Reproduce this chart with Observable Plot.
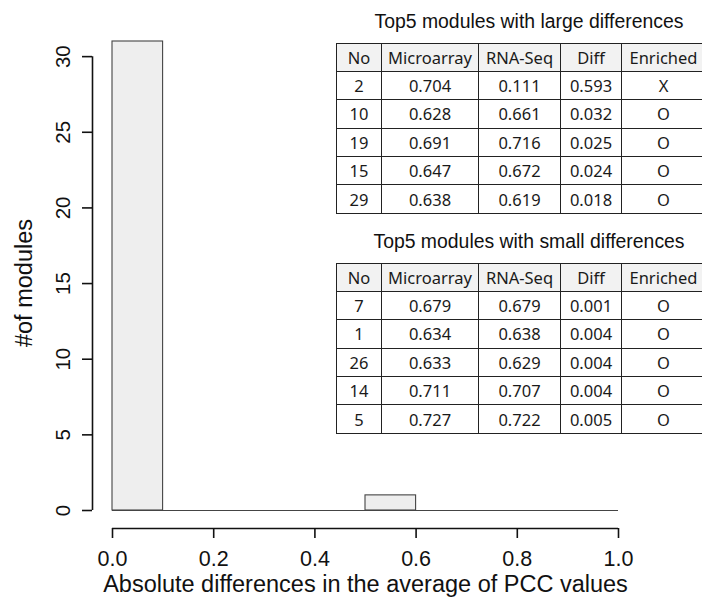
<!DOCTYPE html>
<html><head><meta charset="utf-8">
<script src="https://cdn.jsdelivr.net/npm/d3@7"></script>
<script src="https://cdn.jsdelivr.net/npm/@observablehq/plot@0.6"></script>
<style>
body{margin:0;background:#fff;}
#wrap{position:relative;width:702px;height:605px;overflow:hidden;background:#fff;}
#wrap svg{position:absolute;left:0;top:0;}
.ttl{position:absolute;font-family:"Liberation Sans",Arial,sans-serif;font-size:19.4px;color:#111;white-space:nowrap;transform:translate(-50%,-50%);}
table{position:absolute;border-collapse:collapse;font-family:"Noto Sans",sans-serif;font-size:16.5px;color:#1a1a1a;table-layout:fixed;}
td{border:1px solid #222;padding:0;text-align:center;white-space:nowrap;overflow:hidden;}
tr{height:28.4px;}
tr.h td{background:#f2f2f2;}
</style></head><body><div id="wrap"></div><script>
// Histogram data
const binEdges = [0, 0.1, 0.2, 0.3, 0.4, 0.5, 0.6, 0.7, 0.8, 0.9, 1.0];
const binCounts = [31, 0, 0, 0, 0, 1, 0, 0, 0, 0];
const xTicks = [0, 0.2, 0.4, 0.6, 0.8, 1.0];
const yTicks = [0, 5, 10, 15, 20, 25, 30];
const xLabel = "Absolute differences in the average of PCC values";
const yLabel = "#of modules";

// Table data
const tableHeader = ["No", "Microarray", "RNA-Seq", "Diff", "Enriched"];
const largeTitle = "Top5 modules with large differences";
const largeNo = ["2", "10", "19", "15", "29"];
const largeMicro = ["0.704", "0.628", "0.691", "0.647", "0.638"];
const largeRna = ["0.111", "0.661", "0.716", "0.672", "0.619"];
const largeDiff = ["0.593", "0.032", "0.025", "0.024", "0.018"];
const largeEnriched = ["X", "O", "O", "O", "O"];
const smallTitle = "Top5 modules with small differences";
const smallNo = ["7", "1", "26", "14", "5"];
const smallMicro = ["0.679", "0.634", "0.633", "0.711", "0.727"];
const smallRna = ["0.679", "0.638", "0.629", "0.707", "0.722"];
const smallDiff = ["0.001", "0.004", "0.004", "0.004", "0.005"];
const smallEnriched = ["O", "O", "O", "O", "O"];

const bins = binCounts.map((c, i) => ({x1: binEdges[i], x2: binEdges[i + 1], count: c}));
const font = "'Liberation Sans', Arial, sans-serif";

const chart = Plot.plot({
  width: 702,
  height: 605,
  marginLeft: 112,
  marginRight: 84,
  marginTop: 41,
  marginBottom: 95,
  style: {fontFamily: font, background: "#fff", color: "#111"},
  x: {domain: [0, 1]},
  y: {domain: [0, 31]},
  marks: [
    Plot.rectY(bins, {x1: "x1", x2: "x2", y: "count", fill: "#eeeeee", stroke: "#444", strokeWidth: 1.1}),
    Plot.ruleY([0], {x1: binEdges[0], x2: binEdges[binEdges.length - 1], stroke: "#444", strokeWidth: 1.1}),
    // x axis (offset as in R)
    Plot.ruleY([0], {x1: xTicks[0], x2: xTicks[xTicks.length - 1], dy: 18, stroke: "#111", strokeWidth: 1.6}),
    Plot.axisX({ticks: xTicks, tickSize: 10, tickPadding: 12, dy: 18, tickFormat: d3.format(".1f"), fontSize: 21.5, label: null, strokeWidth: 1.6, stroke: "#111"}),
    // y axis
    Plot.ruleX([0], {y1: yTicks[0], y2: yTicks[yTicks.length - 1], dx: -20, stroke: "#111", strokeWidth: 1.6}),
    Plot.axisY({ticks: yTicks, tickSize: 10, dx: -20, tickFormat: () => "", label: null, strokeWidth: 1.6, stroke: "#111"}),
    Plot.text(yTicks, {x: 0, y: d => d, dx: -49, rotate: -90, text: d => String(d), fontSize: 20.5, fill: "#111"}),
    // axis titles
    Plot.text([yLabel], {frameAnchor: "left", textAnchor: "middle", dx: -88, dy: 7, rotate: -90, fontSize: 23.5, fill: "#111"}),
    Plot.text([xLabel], {frameAnchor: "bottom", dy: 81, fontSize: 23.5, fill: "#111"})
  ]
});

const wrap = document.getElementById("wrap");
wrap.appendChild(chart);

const colWidths = [45, 97, 82, 61, 84];
function addTable(title, cols, top, titleY) {
  const t = document.createElement("div");
  t.className = "ttl";
  t.textContent = title;
  t.style.left = "529px";
  t.style.top = titleY + "px";
  wrap.appendChild(t);
  const tb = document.createElement("table");
  tb.style.left = "336px";
  tb.style.top = top + "px";
  tb.style.width = colWidths.reduce((a, b) => a + b, 0) + "px";
  const cg = document.createElement("colgroup");
  colWidths.forEach(w => { const c = document.createElement("col"); c.style.width = w + "px"; cg.appendChild(c); });
  tb.appendChild(cg);
  const hr = document.createElement("tr");
  hr.className = "h";
  tableHeader.forEach(h => { const td = document.createElement("td"); td.textContent = h; hr.appendChild(td); });
  tb.appendChild(hr);
  for (let i = 0; i < cols[0].length; i++) {
    const tr = document.createElement("tr");
    cols.forEach(c => { const td = document.createElement("td"); td.textContent = c[i]; tr.appendChild(td); });
    tb.appendChild(tr);
  }
  wrap.appendChild(tb);
}
addTable(largeTitle, [largeNo, largeMicro, largeRna, largeDiff, largeEnriched], 42.5, 20.5);
addTable(smallTitle, [smallNo, smallMicro, smallRna, smallDiff, smallEnriched], 262.5, 240.5);
</script></body></html>
